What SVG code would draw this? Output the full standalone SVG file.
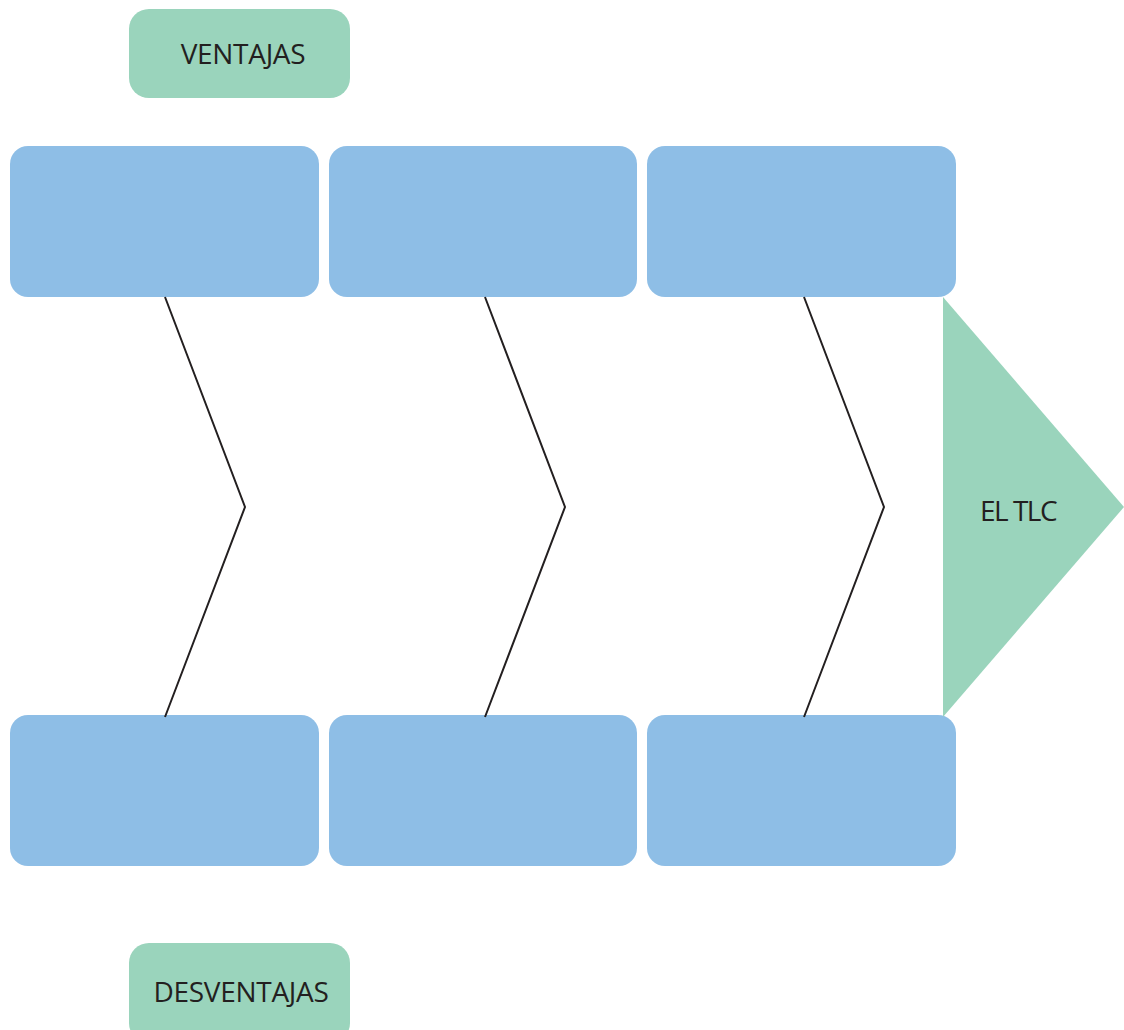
<svg xmlns="http://www.w3.org/2000/svg" width="1124" height="1030" viewBox="0 0 1124 1030">
<style>
.g{fill:#9ad4bc}
.b{fill:#8ebee6}
.t{font-family:"Open Sans","Noto Sans","Liberation Sans",sans-serif;font-size:28px;fill:#231f20;text-anchor:middle;letter-spacing:-0.3px}
.c{fill:none;stroke:#231f20;stroke-width:2}
</style>
<rect width="1124" height="1030" fill="#ffffff"/>
<g id="ventajas"><rect class="g" x="129" y="9" width="221" height="89" rx="20"/><text class="t" x="243" y="64">VENTAJAS</text></g>
<g id="desventajas"><rect class="g" x="129" y="943" width="221" height="100" rx="20"/><text class="t" x="241" y="1002">DESVENTAJAS</text></g>
<g id="top1"><rect class="b" x="10" y="146" width="309" height="151" rx="18"/></g>
<g id="top2"><rect class="b" x="329" y="146" width="308" height="151" rx="18"/></g>
<g id="top3"><rect class="b" x="647" y="146" width="309" height="151" rx="18"/></g>
<g id="bot1"><rect class="b" x="10" y="715" width="309" height="151" rx="18"/></g>
<g id="bot2"><rect class="b" x="329" y="715" width="308" height="151" rx="18"/></g>
<g id="bot3"><rect class="b" x="647" y="715" width="309" height="151" rx="18"/></g>
<g id="tlc"><polygon class="g" points="943,297 1124,507 943,717"/><text class="t" x="1018" y="521" style="letter-spacing:-1.5px">EL TLC</text></g>
<g id="connectors">
<polyline class="c" points="165,297 245,507 165,717"/>
<polyline class="c" points="485,297 565,507 485,717"/>
<polyline class="c" points="804,297 884,507 804,717"/>
</g>
</svg>
